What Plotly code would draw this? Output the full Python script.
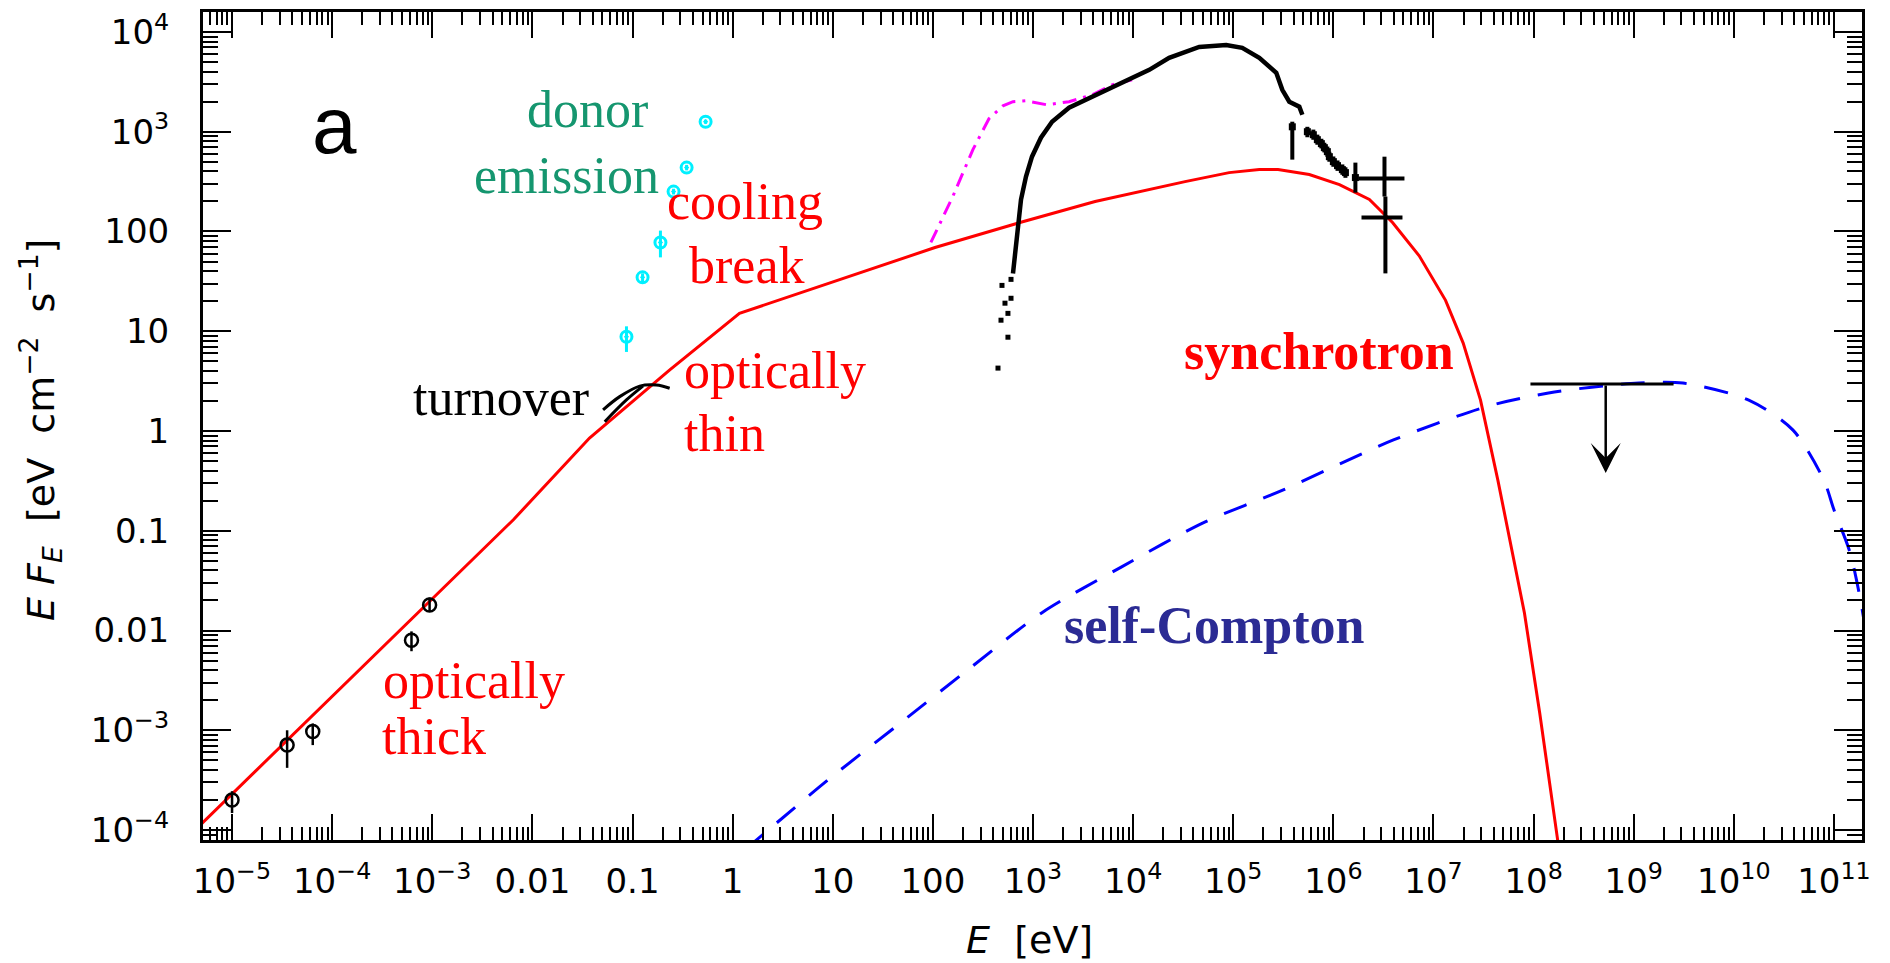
import numpy as np
import plotly.graph_objects as go

# ---------------- data (E in eV, E F_E in eV cm^-2 s^-1) ----------------
# synchrotron model
sync_E = [4.8e-6, 6.46e-3, 0.0372, 0.234, 1.17, 11.0, 105, 741, 4170, 3.3e4, 9.1e4,
          1.82e5, 2.8e5, 5.75e5, 1.15e6, 2.29e6, 3.9e6, 7.2e6, 1.32e7, 1.98e7, 2.95e7,
          4.4e7, 8.1e7, 1.15e8, 1.74e8, 1.95e8]
sync_F = [1.12e-4, 0.129, 0.85, 4.07, 15.1, 32.4, 69, 123, 200, 316, 389,
          417, 417, 372, 295, 209, 123, 57, 20.4, 7.6, 2.04,
          0.32, 0.015, 1.5e-3, 7.9e-5, 2.5e-5]

# self-Compton model
ssc_E = [1.32, 8.9, 46.8, 240, 1230, 7760, 5.0e4, 3.16e5, 3.98e6, 3.55e7, 1.41e8,
         3.8e8, 1.12e9, 3.1e9, 1.41e10, 3.9e10, 7.9e10, 1.0e11, 1.45e11, 1.86e11, 2.3e11]
ssc_F = [6.3e-5, 3.16e-4, 1.17e-3, 4.27e-3, 0.0151, 0.0437, 0.120, 0.257, 0.813, 1.78, 2.40,
         2.75, 3.02, 3.02, 2.04, 1.02, 0.324, 0.162, 0.060, 0.019, 5.0e-3]

# magenta dash-dot spectrum
mag_E = [95.5, 158, 251, 363, 501, 631, 851, 1120, 1380, 2290, 3890, 6170, 9770]
mag_F = [77.6, 224, 661, 1350, 1820, 2000, 2040, 1950, 1860, 2000, 2340, 2950, 3310]

# X-ray spectrum: sparse low-energy points
xs_E = [447, 562, 479, 562, 525, 603, 490, 603]
xs_F = [4.27, 8.71, 12.9, 15.1, 19.1, 21.4, 28.8, 33.1]

# X-ray spectrum: dense part
xd_E = [631, 676, 708, 759, 851, 977, 1200, 1550, 2290, 3890, 6170, 1.15e4, 1.45e4,
        2.29e4, 4.57e4, 8.5e4, 1.23e5, 1.82e5, 2.69e5, 3.09e5, 3.63e5, 4.57e5, 4.9e5]
xd_F = [38.0, 70.8, 112, 209, 355, 562, 871, 1260, 1740, 2240, 2750, 3720, 4170,
        5500, 7080, 7410, 6920, 5500, 3890, 2630, 2000, 1780, 1480]

# hard X-ray tail with errors
xt_E = [3.89e5, 5.5e5, 6.31e5, 6.92e5, 7.59e5, 8.13e5, 8.71e5, 9.12e5, 1.0e6, 1.1e6,
        1.23e6, 1.32e6, 1.66e6]
xt_F = [1120, 1000, 933, 832, 759, 692, 631, 562, 501, 457, 417, 389, 347]
xt_lo = [525, 880, 830, 740, 680, 620, 560, 500, 445, 405, 370, 345, 245]
xt_hi = [1260, 1120, 1050, 935, 850, 775, 710, 630, 565, 515, 470, 440, 490]

# gamma-ray crosses
gx_E = [3.24e6, 3.31e6]
gx_F = [339, 138]
gx_Elo = [1.78e6, 1.91e6]
gx_Ehi = [5.13e6, 4.9e6]
gx_Flo = [224, 38]
gx_Fhi = [562, 224]

# upper limit
ul_E = [9.3e7, 2.5e9]
ul_F = 2.95
ul_arrow_E = 5.25e8
ul_arrow_to = 0.38

# radio / mm points
lo_E = [1.0e-5, 3.55e-5, 6.4e-5, 6.2e-4, 9.4e-4]
lo_F = [2.0e-4, 7.1e-4, 9.7e-4, 8.0e-3, 0.018]
lo_Flo = [1.48e-4, 4.2e-4, 7.1e-4, 6.2e-3, 0.0155]
lo_Fhi = [2.45e-4, 1.0e-3, 1.17e-3, 9.8e-3, 0.0214]

# donor (optical/UV) points
dn_E = [0.087, 0.126, 0.19, 0.257, 0.347, 0.537]
dn_F = [8.8, 34.7, 77.6, 251, 437, 1260]
dn_Flo = [6.2, 31, 55, 235, 410, 1200]
dn_Fhi = [11.2, 38, 102, 268, 465, 1320]

# infrared turnover fits
toA_E = [0.0508, 0.0745, 0.118, 0.173, 0.235]
toA_F = [1.63, 2.21, 2.82, 2.89, 2.68]
toB_E = [0.0528, 0.0869, 0.127]
toB_F = [1.24, 2.05, 2.82]

# axis ticks
x_tickvals = [10.0 ** k for k in range(-5, 12)]
x_ticktext = ["10<sup>−5</sup>", "10<sup>−4</sup>", "10<sup>−3</sup>", "0.01", "0.1", "1", "10", "100",
              "10<sup>3</sup>", "10<sup>4</sup>", "10<sup>5</sup>", "10<sup>6</sup>", "10<sup>7</sup>",
              "10<sup>8</sup>", "10<sup>9</sup>", "10<sup>10</sup>", "10<sup>11</sup>"]
y_tickvals = [10.0 ** k for k in range(-4, 5)]
y_ticktext = ["10<sup>−4</sup>", "10<sup>−3</sup>", "0.01", "0.1", "1", "10", "100",
              "10<sup>3</sup>", "10<sup>4</sup>"]


def errs(v, lo, hi):
    v, lo, hi = np.asarray(v), np.asarray(lo), np.asarray(hi)
    return dict(type="data", symmetric=False, array=hi - v, arrayminus=v - lo)


fig = go.Figure()

# models
fig.add_trace(go.Scatter(x=ssc_E, y=ssc_F, mode="lines",
                         line=dict(color="#0000ff", width=3, dash="24px,18px", shape="spline",
                                   smoothing=0.8)))
fig.add_trace(go.Scatter(x=sync_E, y=sync_F, mode="lines",
                         line=dict(color="#ff0000", width=3)))
fig.add_trace(go.Scatter(x=mag_E, y=mag_F, mode="lines",
                         line=dict(color="#ff00ff", width=3, dash="14px,7px,3px,7px")))

# X-ray spectrum
fig.add_trace(go.Scatter(x=xs_E, y=xs_F, mode="markers",
                         marker=dict(color="black", size=5, symbol="square")))
fig.add_trace(go.Scatter(x=xd_E, y=xd_F, mode="lines",
                         line=dict(color="black", width=4.5)))
fig.add_trace(go.Scatter(x=xt_E, y=xt_F, mode="markers",
                         marker=dict(color="black", size=7, symbol="square"),
                         error_y=dict(errs(xt_F, xt_lo, xt_hi), color="black", thickness=4, width=0)))
fig.add_trace(go.Scatter(x=gx_E, y=gx_F, mode="markers",
                         marker=dict(color="black", size=1),
                         error_y=dict(errs(gx_F, gx_Flo, gx_Fhi), color="black", thickness=4, width=0),
                         error_x=dict(errs(gx_E, gx_Elo, gx_Ehi), color="black", thickness=4, width=0)))

# upper limit
fig.add_trace(go.Scatter(x=ul_E, y=[ul_F, ul_F], mode="lines",
                         line=dict(color="black", width=3)))
fig.add_annotation(x=np.log10(ul_arrow_E), y=np.log10(ul_arrow_to), ax=np.log10(ul_arrow_E),
                   ay=np.log10(ul_F), xref="x", yref="y", axref="x", ayref="y", text="",
                   showarrow=True, arrowhead=3, arrowsize=2.0, arrowwidth=2.5, arrowcolor="black")

# turnover fits
fig.add_trace(go.Scatter(x=toA_E, y=toA_F, mode="lines", line=dict(color="black", width=3, shape="spline")))
fig.add_trace(go.Scatter(x=toB_E, y=toB_F, mode="lines", line=dict(color="black", width=3, shape="spline")))

# radio / mm points
fig.add_trace(go.Scatter(x=lo_E, y=lo_F, mode="markers",
                         marker=dict(symbol="circle-open", size=13, color="black", line=dict(width=2.5)),
                         error_y=dict(errs(lo_F, lo_Flo, lo_Fhi), color="black", thickness=2.5, width=0)))

# donor points
fig.add_trace(go.Scatter(x=dn_E, y=dn_F, mode="markers",
                         marker=dict(symbol="circle-open-dot", size=11, color="#00f0ff", line=dict(width=3)),
                         error_y=dict(errs(dn_F, dn_Flo, dn_Fhi), color="#00f0ff", thickness=3, width=0)))

# ---------------- labels ----------------
X0, X1, Y0, Y1 = 203, 1862, 12, 840


def px(x):
    return (x - X0) / (X1 - X0)


def py(y):
    return (Y1 - y) / (Y1 - Y0)


serif = "Liberation Serif, Times New Roman, serif"
labels = [
    ("donor", 587, 110, "#15966f", False),
    ("emission", 566, 175, "#15966f", False),
    ("cooling", 745, 201, "#ff0000", False),
    ("break", 746, 265, "#ff0000", False),
    ("optically", 775, 370, "#ff0000", False),
    ("thin", 724, 433, "#ff0000", False),
    ("turnover", 501, 398, "#000000", False),
    ("optically", 474, 680, "#ff0000", False),
    ("thick", 434, 736, "#ff0000", False),
    ("synchrotron", 1319, 351, "#ff0000", True),
    ("self-Compton", 1214, 625, "#2b2b94", True),
]
for txt, x, y, col, bold in labels:
    fig.add_annotation(x=px(x), y=py(y), xref="paper", yref="paper", showarrow=False,
                       text=f"<b>{txt}</b>" if bold else txt,
                       font=dict(family=serif, size=52, color=col),
                       xanchor="center", yanchor="middle")

fig.add_annotation(x=px(334), y=py(125), xref="paper", yref="paper", showarrow=False, text="a",
                   font=dict(family="Liberation Sans, Arial, sans-serif", size=80, color="black"),
                   xanchor="center", yanchor="middle")

# axis titles
sans = "DejaVu Sans, sans-serif"
fig.add_annotation(x=px(1029), y=py(940), xref="paper", yref="paper", showarrow=False,
                   text="<i>E</i>  [eV]", font=dict(family=sans, size=38, color="black"),
                   xanchor="center", yanchor="middle")
fig.add_annotation(x=px(40), y=py(430), xref="paper", yref="paper", showarrow=False, textangle=-90,
                   text="<i>E F<sub>E</sub></i>  [eV  cm<sup>−2</sup>  s<sup>−1</sup>]",
                   font=dict(family=sans, size=38, color="black"),
                   xanchor="center", yanchor="middle")

axis_common = dict(type="log", showgrid=False, zeroline=False, showline=True, linecolor="black",
                   linewidth=3, mirror="allticks", ticks="inside", tickcolor="black", tickwidth=2,
                   tickfont=dict(family=sans, size=34, color="black"))

fig.update_xaxes(**axis_common, range=[-5.29, 11.28], tickvals=x_tickvals, ticktext=x_ticktext,
                 ticklen=26, ticklabelstandoff=9,
                 minor=dict(ticks="inside", ticklen=13, tickwidth=2, tickcolor="black", dtick="D1",
                            showgrid=False))
fig.update_yaxes(**axis_common, range=[-4.1, 4.2], tickvals=y_tickvals, ticktext=y_ticktext,
                 ticklen=28, ticklabelstandoff=24,
                 minor=dict(ticks="inside", ticklen=15, tickwidth=2, tickcolor="black", dtick="D1",
                            showgrid=False))

fig.update_layout(width=1890, height=963, showlegend=False,
                  plot_bgcolor="white", paper_bgcolor="white",
                  margin=dict(l=X0, r=1890 - X1, t=Y0, b=963 - Y1, autoexpand=False))

fig.write_html("out.html", include_plotlyjs=True)
